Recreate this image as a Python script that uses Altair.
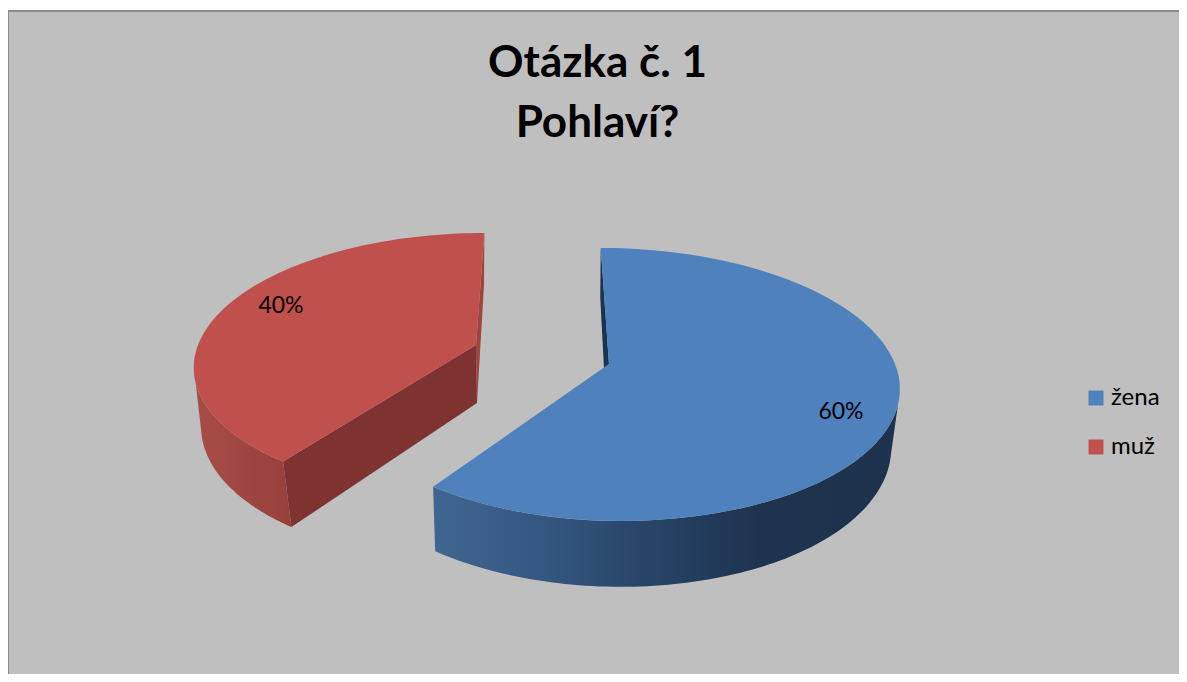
import numpy as np
import altair as alt

# --- chart values
categories = ["žena", "muž"]
shares = [60, 40]
title_lines = ["Otázka č. 1", "Pohlaví?"]
top_colors = ["#4F81BD", "#C0504D"]

FONT = "Lato"
BG = "#BFBFBF"

# --- 3D look: each slice is exploded, with an upper and a lower disc
upper = [
    dict(cx=609, cy=364, ar=286, al=276, b=133.4, k=0.15, s=9.5),
    dict(cx=476, cy=345, ar=278, al=278, b=127.7, k=0.14, s=-9.5),
]
lower = [
    dict(cx=609, cy=421.7, ar=278, al=276, b=142, k=0.14, s=10),
    dict(cx=477, cy=403, ar=272, al=272, b=135, k=0.14, s=-8),
]
label_at = [(841, 412), (281, 306)]
red_lower_turn = 0.5
# where the outer wall leaves the top face, in degrees round the pie
blue_wall_start = (107, 106)
red_wall_end = (253.4, 255.8)


def project(t, d):
    u, v = np.sin(np.radians(t)), -np.cos(np.radians(t))
    w = 1 - d["k"] * v
    a = d["ar"] if u > 0 else d["al"]
    return [float(d["cx"] + (a * u + d["s"] * v) / w), float(d["cy"] + d["b"] * v / w)]


def arc(t0, t1, d, n=90):
    return [project(t, d) for t in np.linspace(t0, t1, n)]


def feature(points, **props):
    ring = list(points) + [points[0]]
    return {"type": "Feature", "properties": props,
            "geometry": {"type": "Polygon", "coordinates": [ring]}}


edges = np.cumsum([0] + shares) / sum(shares) * 360
a0, a1, a2 = [float(e) for e in edges]
apex = lambda d: [float(d["cx"]), float(d["cy"])]

projection = alt.Projection(type="identity", scale=1, translate=[-8, -8])


def shape(features, **mark):
    return alt.Chart(alt.Data(values=features)).mark_geoshape(**mark).project(**projection.to_dict())


def grad(stops, x1=0, x2=1):
    return alt.LinearGradient(gradient="linear", x1=x1, x2=x2, y1=0, y2=0,
                              stops=[alt.GradientStop(offset=o, color=c) for o, c in stops])


backdrop = shape([feature([[8, 11], [1400, 11], [1400, 900], [8, 900]])],
                 fill=BG, stroke="#8C8C8C", strokeWidth=2)

# blue slice side faces
blue_inner = shape([feature([project(a0, upper[0]), project(a0, lower[0]),
                             [604, 368], apex(upper[0])])],
                   fill="#1C3350", strokeWidth=0)
blue_wall = shape([feature(arc(blue_wall_start[0], a1, upper[0]) + arc(a1, blue_wall_start[1], lower[0]))],
                  fill=grad([(0, "#40658F"), (0.2, "#375A85"), (0.45, "#284568"),
                             (0.7, "#1E334F"), (1, "#1D324C")]),
                  strokeWidth=0)

# red slice side faces
red_corner = project(a1 - red_lower_turn, lower[1])
red_cut = shape([feature([apex(upper[1]), project(a1, upper[1]), red_corner, apex(lower[1])])],
                fill="#7F3331", strokeWidth=0)
red_inner = shape([feature([project(a2, upper[1]), project(a2, lower[1]), apex(lower[1]), apex(upper[1])])],
                  fill="#A0433F", strokeWidth=0)
red_wall = shape([feature(arc(a1, red_wall_end[0], upper[1]) + arc(red_wall_end[1], a1 - red_lower_turn, lower[1]))],
                 fill=grad([(0, "#A84C47"), (1, "#983F3C")]), strokeWidth=0)

# top faces, which also carry the legend
tops = [
    feature([apex(upper[0])] + arc(a0, a1, upper[0]), kategorie=categories[0]),
    feature([apex(upper[1])] + arc(a1, a2, upper[1]), kategorie=categories[1]),
]
top = shape(tops, strokeWidth=0).encode(
    color=alt.Color(
        "properties.kategorie:N",
        scale=alt.Scale(domain=categories, range=top_colors),
        legend=alt.Legend(
            title=None, orient="none", legendX=1076, legendY=378,
            symbolType="square", symbolSize=225, symbolStrokeWidth=0,
            labelFont=FONT, labelFontSize=24, labelColor="#000000",
            labelOffset=3, rowPadding=25,
        ),
    )
)

labels = alt.Chart(alt.Data(values=[
    {"x": p[0], "y": p[1], "label": f"{v}%"} for p, v in zip(label_at, shares)
])).mark_text(font=FONT, fontSize=23, color="#000000", align="center", baseline="middle").encode(
    longitude="x:Q", latitude="y:Q", text="label:N"
).project(**projection.to_dict())

chart = alt.layer(
    backdrop, blue_inner, red_inner, red_wall, red_cut, blue_wall, top, labels
).properties(
    width=1171, height=666, padding=0,
    autosize=alt.AutoSizeParams(type="none"),
    background="#FFFFFF",
    title=alt.TitleParams(
        text=title_lines, font=FONT, fontSize=44, fontWeight="bold", color="#000000",
        anchor="middle", frame="group", baseline="top", offset=0, dy=138, dx=4, lineHeight=60,
    ),
).configure_view(stroke=None)

chart.save("out.html", embed_options={"renderer": "svg", "actions": False})
